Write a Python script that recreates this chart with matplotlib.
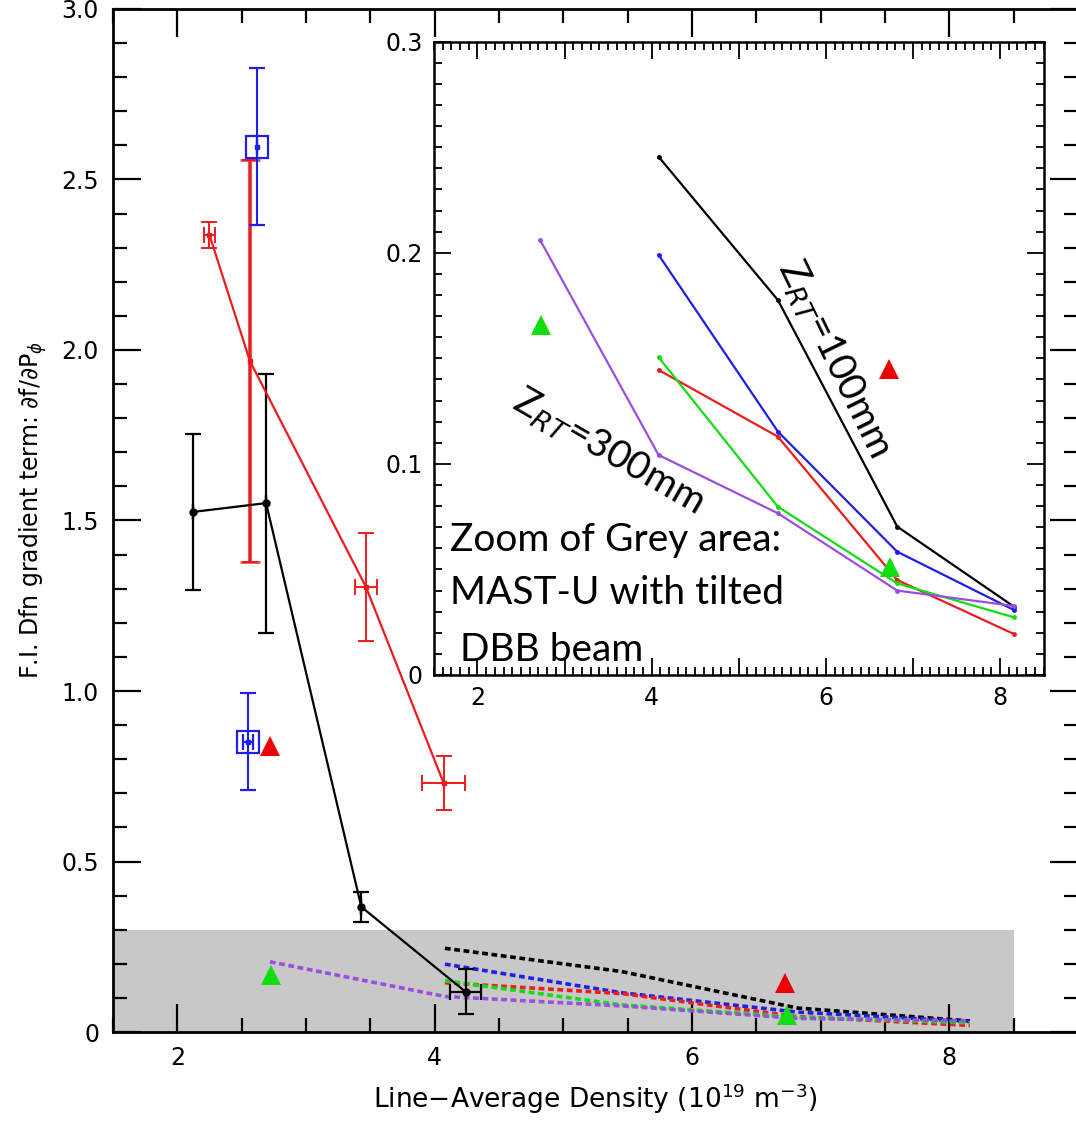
import numpy as np
import matplotlib
matplotlib.use("Agg")
import matplotlib.pyplot as plt
from matplotlib.ticker import MultipleLocator, FuncFormatter

# ---- measured points (main panel) ----
blk_x = [2.12, 2.69, 3.43, 4.24]
blk_y = [1.525, 1.551, 0.367, 0.118]
blk_yerr = [0.23, 0.38, 0.045, 0.066]
blk_xerr = [0.0, 0.0, 0.0, 0.12]

red_x = [2.25, 2.565, 3.465, 4.07]
red_y = [2.337, 1.967, 1.306, 0.73]
red_yerr = [0.038, 0.59, 0.158, 0.08]
red_xerr = [0.04, 0.0, 0.087, 0.165]

blue_x = [2.617, 2.547]
blue_y = [2.596, 0.851]
blue_yerr = [0.23, 0.142]
blue_xerr = [0.0, 0.04]

tri_red_x = [2.72, 6.72]
tri_red_y = [0.84, 0.145]
tri_green_x = [2.73, 6.74]
tri_green_y = [0.166, 0.051]

# ---- model curves (grey area, zoomed in inset) ----
mod_x = [4.08, 5.45, 6.82, 8.16]
mod_black = [0.2455, 0.1776, 0.0703, 0.0324]
mod_blue = [0.199, 0.1153, 0.0584, 0.0308]
mod_red = [0.1445, 0.1129, 0.045, 0.0194]
mod_green = [0.1505, 0.0797, 0.0434, 0.0273]
purple_x = [2.72, 4.08, 5.45, 6.82, 8.16]
mod_purple = [0.206, 0.1042, 0.0766, 0.040, 0.0327]

grey_x = [1.5, 8.5]
grey_top = 0.3

RED = "#ee1c1c"
BLUE = "#1f1fe6"
GREEN = "#11dd11"
PURPLE = "#9b4fe0"

models = [(mod_x, mod_black, "k"), (mod_x, mod_blue, BLUE),
          (mod_x, mod_red, RED), (mod_x, mod_green, GREEN),
          (purple_x, mod_purple, PURPLE)]

plt.rcParams["font.family"] = ["DejaVu Sans"]

fig = plt.figure(figsize=(10.76, 11.22), dpi=100)
ax = fig.add_axes([0.105, 0.0802, 0.8968, 0.9118])

ax.fill_between(grey_x, 0, grey_top, color="#c8c8c8", lw=0, zorder=0)
for xs, ys, c in models:
    ax.plot(xs, ys, color=c, lw=2.6, ls=(0, (1.6, 1.0)), zorder=2)

ax.errorbar(blk_x, blk_y, yerr=blk_yerr, xerr=blk_xerr, color="k", lw=1.6,
            marker="o", ms=5, capsize=6, capthick=1.6, elinewidth=1.6, zorder=4)
ax.errorbar(red_x, red_y, yerr=red_yerr, xerr=red_xerr, color=RED, lw=1.6,
            marker="s", ms=3, capsize=6, capthick=1.4, elinewidth=1.4, zorder=4)
# the wide bar on the second red point
ax.errorbar(red_x[1:2], red_y[1:2], yerr=red_yerr[1:2], fmt="none",
            ecolor="#dc5a5a", elinewidth=3.0, capsize=7, capthick=2, zorder=3)
ax.errorbar(blue_x, blue_y, yerr=blue_yerr, xerr=blue_xerr, fmt="s", color=BLUE,
            mfc="none", mec=BLUE, mew=1.6, ms=16, capsize=6, capthick=1.4,
            elinewidth=1.5, zorder=5)
ax.plot(blue_x, blue_y, "s", color=BLUE, ms=3, zorder=5)
ax.plot(tri_red_x, tri_red_y, "^", color="#ee0000", ms=15, mew=0, zorder=5)
ax.plot(tri_green_x, tri_green_y, "^", color=GREEN, ms=15, mew=0, zorder=5)

ax.set_xlim(1.5, 9.0)
ax.set_ylim(0, 3.0)
ax.xaxis.set_major_locator(MultipleLocator(2))
ax.xaxis.set_minor_locator(MultipleLocator(0.5))
ax.yaxis.set_major_locator(MultipleLocator(0.5))
ax.yaxis.set_minor_locator(MultipleLocator(0.1))
ax.yaxis.set_major_formatter(FuncFormatter(lambda v, p: "0" if v == 0 else f"{v:.1f}"))
ax.xaxis.set_major_formatter(FuncFormatter(lambda v, p: f"{v:.0f}"))
ax.tick_params(which="both", direction="in", top=True, right=True, width=1.6,
               labelsize=17, colors="k")
ax.tick_params(which="major", length=20, pad=10)
ax.tick_params(which="minor", length=10)
for s in ax.spines.values():
    s.set_linewidth(2)

ax.set_xlabel(r"Line$-$Average Density (10$^{19}$ m$^{-3}$)", fontsize=19, labelpad=8)
ax.set_ylabel(r"F.I. Dfn gradient term: $\partial$f/$\partial$P$_{\phi}$", fontsize=17,
              labelpad=10)
ax.yaxis.set_label_coords(-0.066, 0.51)

# ---- inset: zoom of the grey area ----
ins = fig.add_axes([0.4033, 0.3984, 0.5665, 0.5644], zorder=10)
ins.set_facecolor("white")
for xs, ys, c in models:
    ins.plot(xs, ys, color=c, lw=1.6, marker="o", ms=2.5)
ins.plot(tri_red_x, tri_red_y, "^", color="#ee0000", ms=15, mew=0)
ins.plot(tri_green_x, tri_green_y, "^", color=GREEN, ms=15, mew=0)

ins.set_xlim(1.5, 8.5)
ins.set_ylim(0, 0.3)
ins.xaxis.set_major_locator(MultipleLocator(1))
ins.xaxis.set_minor_locator(MultipleLocator(0.1))
ins.yaxis.set_major_locator(MultipleLocator(0.1))
ins.yaxis.set_minor_locator(MultipleLocator(0.01))
ins.xaxis.set_major_formatter(FuncFormatter(lambda v, p: f"{v:.0f}" if round(v) % 2 == 0 else ""))
ins.yaxis.set_major_formatter(FuncFormatter(lambda v, p: "0" if v == 0 else f"{v:.1f}"))
ins.tick_params(which="both", direction="in", top=True, right=True, width=1.3,
                labelsize=17)
ins.tick_params(which="major", length=12, pad=8)
ins.tick_params(which="minor", length=6)
for s in ins.spines.values():
    s.set_linewidth(1.8)

note_font = ["Lato", "DejaVu Sans"]
ins.text(6.09, 0.150, r"Z$_{RT}$=100mm", fontsize=28, rotation=-64, family=note_font,
         ha="center", va="center", rotation_mode="anchor")
ins.text(3.50, 0.1056, r"Z$_{RT}$=300mm", fontsize=28, rotation=-30, family=note_font,
         ha="center", va="center", rotation_mode="anchor")
ins.text(1.68, 0.064, "Zoom of Grey area:", fontsize=28, family=note_font,
         ha="left", va="center")
ins.text(1.68, 0.0388, "MAST-U with tilted", fontsize=28, family=note_font,
         ha="left", va="center")
ins.text(1.68, 0.0118, " DBB beam", fontsize=28, family=note_font,
         ha="left", va="center")

fig.savefig("out.png", dpi=100)
